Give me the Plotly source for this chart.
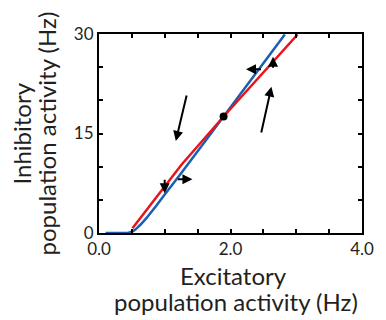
import plotly.graph_objects as go

# Excitatory nullcline (blue) and inhibitory nullcline (red)
exc_x = [0.1, 0.4, 0.45, 0.5, 0.55, 0.6, 0.65, 0.717, 0.862, 0.985, 1.226, 1.895, 2.826]
exc_y = [0.0, 0.0, 0.05, 0.2, 0.5, 0.95, 1.45, 2.2, 4.0, 5.6, 8.7, 17.56, 29.92]
inh_x = [0.509, 1.251, 1.895, 3.021]
inh_y = [0.71, 10.25, 17.56, 29.92]

# Fixed point
fp_x = [1.895]
fp_y = [17.56]

# Flow arrows: (tail_x, tail_y, head_x, head_y)
arrows = [
    (1.338, 20.95, 1.168, 13.87),
    (2.463, 14.92, 2.623, 22.06),
    (0.999, 8.25, 0.999, 5.98),
    (1.178, 8.10, 1.421, 8.10),
    (2.487, 24.68, 2.236, 24.68),
    (2.647, 24.68, 2.647, 26.58),
]

x_ticks = [0, 0.5, 1, 1.5, 2, 2.5, 3, 3.5, 4]
x_labels = ["0.0", "", "", "", "2.0", "", "", "", "4.0"]
y_ticks = [0, 5, 10, 15, 20, 25, 30]
y_labels = ["0", "", "", "15", "", "", "30"]

x_title = ["Excitatory", "population activity (Hz)"]
y_title = ["Inhibitory", "population activity (Hz)"]

FONT = "Lato"
TXT = "#231f20"

fig = go.Figure()
fig.add_trace(go.Scatter(x=exc_x, y=exc_y, mode="lines", line=dict(color="#1a5fb4", width=2.5, shape="spline", smoothing=0.6), hoverinfo="skip"))
fig.add_trace(go.Scatter(x=inh_x, y=inh_y, mode="lines", line=dict(color="#e8141c", width=2.5), hoverinfo="skip"))
fig.add_trace(go.Scatter(x=fp_x, y=fp_y, mode="markers", marker=dict(color="black", size=8), hoverinfo="skip"))

for tx, ty, hx, hy in arrows:
    fig.add_annotation(x=hx, y=hy, ax=tx, ay=ty, xref="x", yref="y", axref="x", ayref="y",
                       showarrow=True, arrowhead=2, arrowsize=1, arrowwidth=2, arrowcolor="black",
                       standoff=0, startstandoff=0, text="")

# Axis titles (one annotation per line)
for txt, xs, ys in [(x_title[0], 3, -42), (x_title[1], 5, -68)]:
    fig.add_annotation(text=txt, xref="paper", yref="paper", x=0.5, y=0, xshift=xs, yshift=ys,
                       xanchor="center", yanchor="middle", showarrow=False,
                       font=dict(family=FONT, size=24, color=TXT))
for txt, xs in [(y_title[0], -78), (y_title[1], -53)]:
    fig.add_annotation(text=txt, xref="paper", yref="paper", x=0, y=0.5, xshift=xs,
                       xanchor="center", yanchor="middle", textangle=-90, showarrow=False,
                       font=dict(family=FONT, size=24, color=TXT))

axis_common = dict(showline=True, linecolor="black", linewidth=2, mirror="ticks", ticks="inside",
                   ticklen=4, tickwidth=1.5, tickcolor="black", showgrid=False, zeroline=False,
                   ticklabeloverflow="allow",
                   tickfont=dict(family=FONT, size=17, color=TXT))
fig.update_xaxes(range=[0, 4], tickvals=x_ticks, ticktext=x_labels, **axis_common)
fig.update_yaxes(range=[0, 30], tickvals=y_ticks, ticktext=y_labels, **axis_common)

# page body has an 8px margin: size the figure so the plot area lands at x 99-374, y 34-233
fig.update_layout(width=370, height=312, margin=dict(l=91, r=4, t=26, b=87),
                  plot_bgcolor="white", paper_bgcolor="white", showlegend=False)

fig.write_html("out.html")
